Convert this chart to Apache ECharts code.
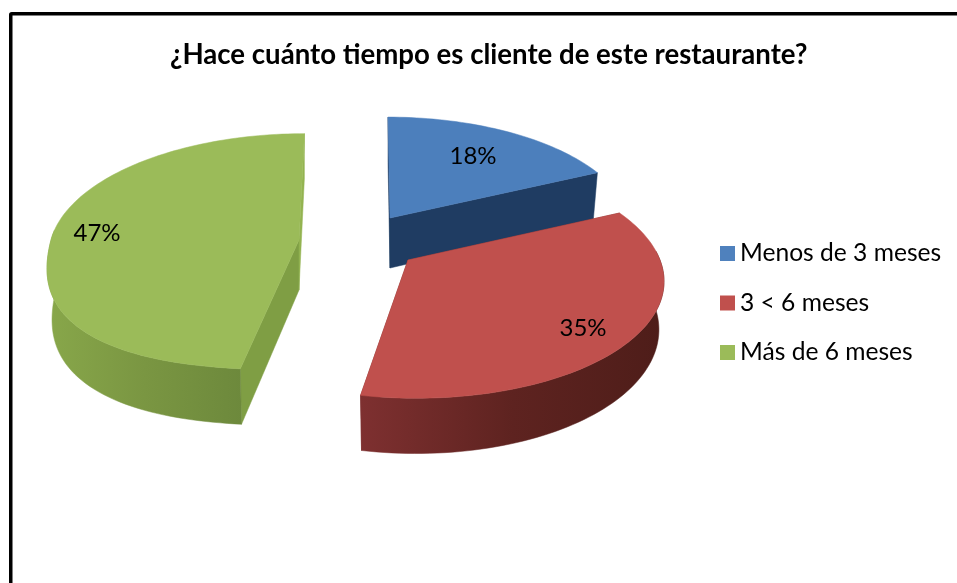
<!DOCTYPE html>
<html>
<head>
<meta charset="utf-8">
<style>html,body{margin:0;padding:0;background:#fff;overflow:hidden}#c{width:957px;height:583px}</style>
<script src="https://cdn.jsdelivr.net/npm/echarts@6/dist/echarts.min.js"></script>
</head>
<body>
<div id="c"></div>
<script>
var titleText = '¿Hace cuánto tiempo es cliente de este restaurante?';
var categories = ['Menos de 3 meses', '3 < 6 meses', 'Más de 6 meses'];
var percentages = [18, 35, 47];

var FONT = 'Lato, Carlito, sans-serif';
var grad = function (a, b, c) {
  return new echarts.graphic.LinearGradient(0, 0, 1, 0, [
    {offset: 0, color: a}, {offset: 0.5, color: b}, {offset: 1, color: c}]);
};
/* Projection of each exploded slice of the tilted pie */
var sliceLook = [
  {cx: 390, cy: 218, rx: 240, ry: 111, k: 0.10, skew: 22, d: 50, full: 0, lx: 473, ly: 156,
   top: '#4c7fbc', first: '#1f3c62', radial: '#1f3c62', arc: '#1f3c62'},
  {cx: 408, cy: 260, rx: 252, ry: 117.5, k: 0.15, skew: 46, d: 47, full: 0, lx: 583, ly: 328,
   top: '#c0504d', first: '#7a2e2d', radial: '#7a2e2d', arc: ['#7e3030', '#5e2320', '#4e1d19']},
  {cx: 299, cy: 240, rx: 248, ry: 117, k: 0.10, skew: -60, d: 50, full: 0.07, lx: 97, ly: 233,
   top: '#9bbb59', first: '#93b350', radial: '#7f9e44', arc: ['#88a74a', '#7a9642', '#6d893c']}
];
var colors = ['#4f81bd', '#c0504d', '#9bbb59'];

function topPoint(l, deg) {
  var t = deg * Math.PI / 180, X = Math.sin(t), Y = -Math.cos(t);
  if (Y > 0) {
    var b = 1 + l.full * Math.pow(Math.sin(2 * t), 2);
    X *= b; Y *= b;
  }
  var s = 1 / (1 - l.k * Y);
  return {x: l.cx + (X * l.rx + l.skew) * s - l.skew, y: l.cy + Y * l.ry * s, s: s};
}
function basePoint(l, p, s) {
  return [l.cx + (p.x - l.cx) * 0.98, p.y + l.d * s];
}
function poly(points, fill, z) {
  return {type: 'polygon', z2: z, shape: {points: points},
    style: {fill: fill, stroke: fill, lineWidth: 0.5}, silent: true};
}

function drawSlice(idx) {
  return function (params, api) {
    var l = sliceLook[idx], a0 = api.value(0) * 3.6, a1 = api.value(1) * 3.6;
    var apex = {x: l.cx, y: l.cy, s: 1};
    var rim = [];
    for (var a = a0; a < a1; a += 1.5) rim.push(topPoint(l, a));
    rim.push(topPoint(l, a1));
    var first = rim[0], last = rim[rim.length - 1];
    var wall = function (p, q) {
      return [[p.x, p.y], [q.x, q.y], basePoint(l, q, q.s), basePoint(l, p, p.s)];
    };
    var arcTop = rim.map(function (p) { return [p.x, p.y]; });
    var frontRim = rim.filter(function (p) { return p.y > l.cy - 10; });
    var arcFill = Array.isArray(l.arc) ? grad(l.arc[0], l.arc[1], l.arc[2]) : l.arc;
    var radA = idx === 2 ? l.radial : l.first, radB = idx === 2 ? l.first : l.radial;
    var children = [
      poly(wall(apex, first), radA, 1),
      poly(wall(apex, last), radB, 1),
      poly([[apex.x, apex.y]].concat(arcTop), l.top, 3),
      {type: 'text', z2: 4, silent: true, style: {
        x: l.lx, y: l.ly, text: api.value(2) + '%', fill: '#000',
        font: '24px ' + FONT, textAlign: 'center', textVerticalAlign: 'middle'}}
    ];
    if (frontRim.length > 1) {
      var frontTop = frontRim.map(function (p) { return [p.x, p.y]; });
      var frontBase = frontRim.map(function (p) { return basePoint(l, p, p.s); }).reverse();
      children.push(poly(frontTop.concat(frontBase), arcFill, 2));
    }
    return {type: 'group', children: children};
  };
}

function sliceSeries(i) {
  var start = 0;
  for (var j = 0; j < i; j++) start += percentages[j];
  return {
    type: 'custom', name: categories[i], coordinateSystem: 'none',
    itemStyle: {color: colors[i]},
    renderItem: drawSlice(i),
    data: [[start, start + percentages[i], percentages[i]]],
    animation: false, silent: true
  };
}

var chart = echarts.init(document.getElementById('c'), null, {renderer: 'canvas'});
chart.setOption({
  animation: false,
  backgroundColor: '#fff',
  title: {text: titleText, left: 165, top: 36,
    textStyle: {fontFamily: FONT, fontWeight: 'bold', fontSize: 27.6, color: '#000'}},
  legend: {orient: 'vertical', left: 720, top: 241, padding: 0, itemWidth: 15, itemHeight: 15,
    itemGap: 24.5, icon: 'rect', selectedMode: false,
    data: categories,
    textStyle: {fontFamily: FONT, fontSize: 24.6, lineHeight: 24, color: '#000'}},
  graphic: [{type: 'rect', silent: true, z: -1,
    shape: {x: 10.75, y: 13.75, width: 1000, height: 700, r: 1},
    style: {fill: 'none', stroke: '#000', lineWidth: 3.5}}],
  series: [sliceSeries(2), sliceSeries(0), sliceSeries(1)]
});
</script>
</body>
</html>
